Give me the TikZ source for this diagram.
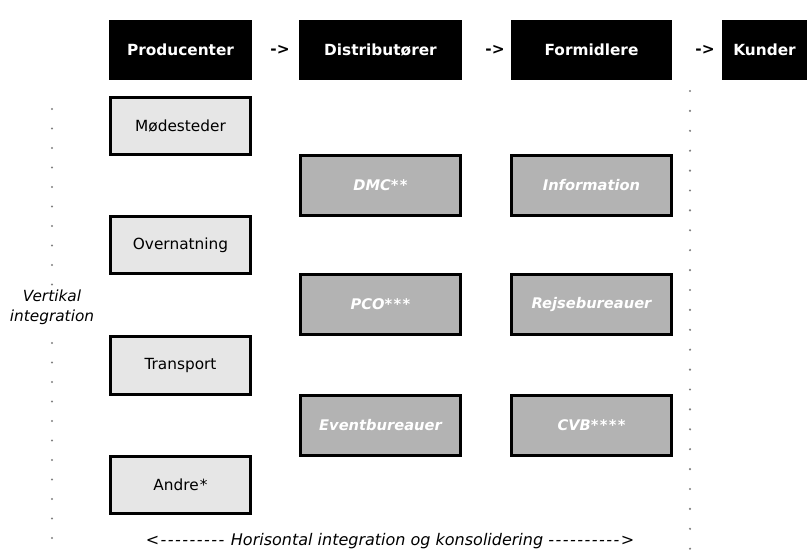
\documentclass[tikz,border=0pt]{standalone}
\usepackage{fontspec}
\setmainfont{DejaVu Sans}[Ligatures=TeXOff]
\definecolor{lysgraa}{HTML}{E6E6E6}
\definecolor{moerkgraa}{HTML}{B3B3B3}
\definecolor{prik}{HTML}{808080}
\newcommand\streger[1]{\foreach \i in {1,...,#1}{-\kern1.1pt}}
\begin{document}
\begin{tikzpicture}[x=0.75pt,y=-0.75pt,
	hoved/.style={fill=black,text=white,font=\bfseries\fontsize{11.5}{14}\selectfont,minimum height=45pt,inner sep=0pt},
	pil/.style={font=\bfseries\fontsize{11.5}{14}\selectfont},
	producent/.style={draw,line width=2.25pt,fill=lysgraa,minimum width=105pt,minimum height=42.75pt,font=\fontsize{11.5}{14}\selectfont},
	aktoer/.style={draw,line width=2.25pt,fill=moerkgraa,text=white,minimum width=120pt,minimum height=45pt,font=\bfseries\itshape\fontsize{11}{13}\selectfont}]
		\useasboundingbox (0,0) rectangle (807,552);
		\node[hoved,minimum width=107.25pt] (prod) at (180.5,50) {Producenter};
		\node[hoved,minimum width=122.25pt] (dist) at (380.5,50) {Distributører};
		\node[hoved,minimum width=120.75pt] (form) at (591.5,50) {Formidlere};
		\node[hoved,minimum width=63.75pt] (kund) at (764.5,50) {Kunder};
		\node[pil] (pil1) at (280,50) {->};
		\node[pil] (pil2) at (495,50) {->};
		\node[pil] (pil3) at (705,50) {->};
		\node[producent] (moede) at (180.5,126.5) {Mødesteder};
		\node[producent] (overn) at (180.5,245.5) {Overnatning};
		\node[producent] (trans) at (180.5,365.5) {Transport};
		\node[producent] (andre) at (180.5,485) {Andre\kern1pt*};
		\node[aktoer] (dmc) at (380.5,185.5) {DMC*\kern1pt*};
		\node[aktoer] (pco) at (380.5,304.5) {PCO*\kern1pt*\kern1pt*};
		\node[aktoer] (event) at (380.5,425) {Eventbureauer};
		\node[aktoer] (info) at (591.5,185.5) {Information};
		\node[aktoer] (rejse) at (591.5,304.5) {Rejsebureauer};
		\node[aktoer] (cvb) at (591.5,425) {CVB*\kern1pt*\kern1pt*\kern1pt*};
		\foreach \k in {0,...,9,12,13,...,22}
			\fill[prik] (52,{109+19.5*\k}) circle (0.9pt);
		\foreach \k in {0,...,23}
			\fill[prik] (690,{91+19.9*\k}) circle (0.9pt);
		\node[align=center,font=\itshape\fontsize{11.5}{15}\selectfont] (vert) at (52,307) {Vertikal\\integration};
		\node[font=\itshape\fontsize{12}{14}\selectfont] (hori) at (390,541) {<\kern1pt\streger{9} Horisontal integration og konsolidering \streger{10}>};
	\end{tikzpicture}
\end{document}
